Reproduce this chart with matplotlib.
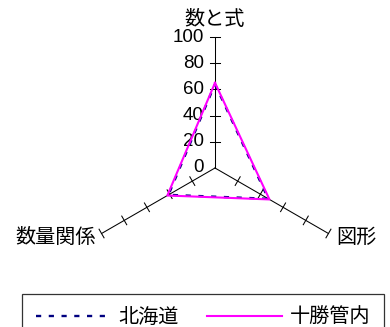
import numpy as np
import matplotlib
matplotlib.use("Agg")
import matplotlib.pyplot as plt

plt.rcParams['font.family'] = ['Liberation Sans', 'Noto Sans CJK JP']

categories = ["数と式", "図形", "数量関係"]
angles_deg = [90, -30, 210]
hokkaido = [64, 47, 41]
tokachi = [65, 48, 42]
series_names = ["北海道", "十勝管内"]
r_ticks = [0, 20, 40, 60, 80, 100]


def to_xy(values, angles):
    a = np.radians(angles)
    v = np.asarray(values, dtype=float)
    return v * np.cos(a), v * np.sin(a)


W, H = 390, 327
cx, cy = 215, 168          # centre in pixels (from top-left)
scale = 1.31               # pixels per unit

fig = plt.figure(figsize=(W / 100, H / 100), dpi=100)
ax = fig.add_axes([0, 0, 1, 1])
ax.set_xlim(-cx / scale, (W - cx) / scale)
ax.set_ylim(-(H - cy) / scale, cy / scale)
ax.axis('off')

# spokes and tick marks
tick_half = 3.8
for ang in angles_deg:
    ex, ey = to_xy([100], [ang])
    ax.plot([0, ex[0]], [0, ey[0]], color='black', lw=0.75, zorder=1)
    a = np.radians(ang)
    px, py = -np.sin(a), np.cos(a)
    for r in r_ticks[1:]:
        tx, ty = r * np.cos(a), r * np.sin(a)
        ax.plot([tx - px * tick_half, tx + px * tick_half],
                [ty - py * tick_half, ty + py * tick_half],
                color='black', lw=0.75, zorder=1)

# value labels on the top axis
for r in r_ticks:
    ax.text(-8.5, r, str(r), ha='right', va='center', fontsize=13.5)

# category labels
cat_fs = 14.5
ax.text(0, 113, categories[0], ha='center', va='center', fontsize=cat_fs)
gx, gy = to_xy([100], [angles_deg[1]])
ax.text(gx[0] + 6, gy[0] - 3, categories[1], ha='left', va='center', fontsize=cat_fs)
sx, sy = to_xy([100], [angles_deg[2]])
ax.text(sx[0] - 4, sy[0] - 3, categories[2], ha='right', va='center', fontsize=cat_fs)

# series
x1, y1 = to_xy(hokkaido + hokkaido[:1], angles_deg + angles_deg[:1])
x2, y2 = to_xy(tokachi + tokachi[:1], angles_deg + angles_deg[:1])
ax.plot(x1, y1, color='#000080', lw=1.7, ls=(0, (2.2, 3.2)),
        label=series_names[0], zorder=2)
ax.plot(x2, y2, color='#FF00FF', lw=1.5, label=series_names[1], zorder=3)

leg = fig.legend(loc='upper left', bbox_to_anchor=(22 / W, 1 - 294 / H),
                 ncol=2, fontsize=cat_fs, frameon=True, fancybox=False,
                 edgecolor='black', handlelength=3.7, handletextpad=0.4,
                 columnspacing=1.4, borderpad=0.7, borderaxespad=0)
leg.get_frame().set_linewidth(0.9)

fig.savefig("out.png", dpi=100)
